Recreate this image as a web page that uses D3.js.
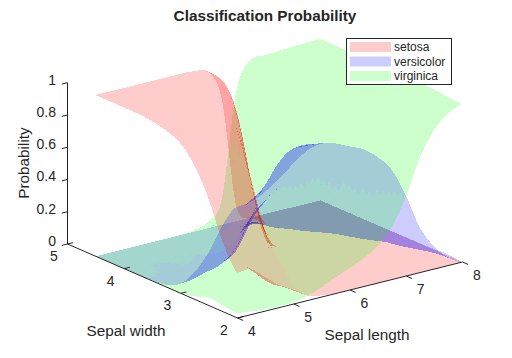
<!DOCTYPE html>
<html>
<head>
<meta charset="utf-8">
<script src="https://cdn.jsdelivr.net/npm/d3@7"></script>
<style>
  html, body { margin: 0; padding: 0; background: #fff; }
  svg { display: block; }
  text { font-family: "Liberation Sans", Arial, sans-serif; fill: #262626; }
</style>
</head>
<body>
<script>
const speciesNames = ['setosa', 'versicolor', 'virginica']
const speciesColors = ['#ff0000', '#0000ff', '#00ff00']
const legendColors = ['#ffcccc', '#ccccff', '#ccffcc']

// rows are sepal width, columns are sepal length
const lengthGrid = [4, 4.25, 4.5, 4.75, 5, 5.25, 5.5, 5.75, 6, 6.25, 6.5, 6.75, 7, 7.25, 7.5, 7.75, 8]
const widthGrid = [2, 2.25, 2.5, 2.75, 3, 3.25, 3.5, 3.75, 4, 4.25, 4.5]

const setosaProb = [
  [.28, .28, .21, .14, .09, .03, .01, 0, 0, 0, 0, 0, 0, 0, 0, 0, 0],
  [.43, .32, .23, .14, .09, .035, .01, 0, 0, 0, 0, 0, 0, 0, 0, 0, 0],
  [.66, .57, .47, .34, .22, .08, .02, .005, 0, 0, 0, 0, 0, 0, 0, 0, 0],
  [.83, .79, .72, .63, .50, .25, .075, .015, 0, 0, 0, 0, 0, 0, 0, 0, 0],
  [.93, .92, .89, .845, .78, .52, .22, .06, .01, 0, 0, 0, 0, 0, 0, 0, 0],
  [.97, .97, .96, .945, .92, .81, .55, .19, .03, .003, 0, 0, 0, 0, 0, 0, 0],
  [.99, .99, .985, .98, .977, .945, .82, .47, .13, .01, 0, 0, 0, 0, 0, 0, 0],
  [1, 1, .995, .995, .99, .985, .95, .80, .42, .04, 0, 0, 0, 0, 0, 0, 0],
  [1, 1, 1, 1, 1, .995, .99, .96, .80, .37, .01, 0, 0, 0, 0, 0, 0],
  [1, 1, 1, 1, 1, 1, 1, .99, .95, .75, .22, .005, 0, 0, 0, 0, 0],
  [1, 1, 1, 1, 1, 1, 1, .995, .97, .78, .10, .003, 0, 0, 0, 0, 0]
]

const versicolorProb = [
  [.69, .70, .74, .80, .87, .93, .95, .93, .89, .85, .78, .68, .50, .28, .14, .05, 0],
  [.54, .58, .65, .70, .80, .90, .90, .89, .86, .80, .70, .52, .33, .17, .09, .04, .01],
  [.33, .40, .50, .57, .66, .78, .84, .84, .80, .74, .60, .36, .19, .11, .06, .025, .005],
  [.17, .20, .27, .36, .44, .56, .68, .72, .72, .66, .42, .23, .14, .09, .045, .015, .003],
  [.06, .07, .10, .13, .20, .36, .44, .52, .52, .45, .25, .15, .10, .055, .025, .01, .002],
  [.015, .03, .035, .045, .07, .12, .30, .38, .42, .28, .16, .105, .07, .035, .015, .005, .001],
  [.005, .008, .01, .015, .015, .045, .12, .23, .19, .14, .105, .07, .045, .02, .008, .003, 0],
  [0, 0, .005, .003, .005, .01, .02, .08, .15, .115, .08, .045, .02, .008, .003, 0, 0],
  [0, 0, 0, 0, .002, .002, .002, .01, .05, .09, .06, .025, .008, .002, 0, 0, 0],
  [0, 0, 0, 0, 0, 0, 0, 0, .005, .02, .03, .01, .002, 0, 0, 0, 0],
  [0, 0, 0, 0, 0, 0, 0, 0, 0, 0, 0, 0, 0, 0, 0, 0, 0]
]

const virginicaProb = [
  [.03, .02, .01, .01, .01, .03, .06, .10, .135, .175, .23, .325, .49, .71, .86, .94, .98],
  [.04, .03, .02, .015, .015, .02, .03, .05, .08, .13, .26, .455, .67, .83, .92, .965, .985],
  [.05, .03, .02, .015, .015, .02, .03, .04, .08, .17, .37, .62, .825, .93, .97, .985, .995],
  [.02, .01, .01, .013, .02, .025, .03, .045, .13, .31, .575, .81, .93, .975, .99, .995, 1],
  [.005, .005, .005, .01, .01, .02, .04, .11, .29, .555, .79, .92, .97, .99, .995, 1, 1],
  [.002, .003, .004, .005, .01, .02, .06, .25, .56, .81, .93, .975, .99, .995, 1, 1, 1],
  [.001, .002, .004, .005, .005, .01, .06, .32, .72, .93, .98, .99, .995, 1, 1, 1, 1],
  [0, 0, 0, .002, .003, .005, .03, .17, .55, .90, .98, .995, 1, 1, 1, 1, 1],
  [0, 0, 0, 0, .002, .003, .01, .04, .19, .62, .94, .98, .995, 1, 1, 1, 1],
  [0, 0, 0, 0, 0, 0, 0, .01, .04, .25, .77, .96, .985, .995, 1, 1, 1],
  [0, 0, 0, 0, 0, 0, .002, .01, .04, .16, .80, .975, .985, .99, .995, 1, 1]
]

const lengthTicks = [4, 5, 6, 7, 8]
const widthTicks = [2, 3, 4, 5]
const probTicks = [0, 0.2, 0.4, 0.6, 0.8, 1]

const svg = d3.select('body').append('svg').attr('width', 512).attr('height', 358)

// oblique projection of the 3d box, one scale per screen direction
const lenX = d3.scaleLinear().domain([4, 8]).range([0, 225])
const lenY = d3.scaleLinear().domain([4, 8]).range([0, -56])
const widX = d3.scaleLinear().domain([2, 5]).range([0, -170])
const widY = d3.scaleLinear().domain([2, 5]).range([0, -74])
const probY = d3.scaleLinear().domain([0, 1]).range([0, -161.3])

const project = (l, w, p) => [
  237 + lenX(l) + widX(w),
  318 + lenY(l) + widY(w) + probY(p)
]
const depth = (l, w, p) => 0.53 * (l - 4) / 4 + 0.69 * (w - 2) / 3 - 0.33 * p

// smooth the drawn mesh between the read values
const catmull = (a, b, c, d, t) =>
  0.5 * (2 * b + (c - a) * t + (2 * a - 5 * b + 4 * c - d) * t * t + (3 * b - a - 3 * c + d) * t * t * t)

function sample(table, u, v) {
  const col = Math.min(Math.floor(u), lengthGrid.length - 2)
  const row = Math.min(Math.floor(v), widthGrid.length - 2)
  const vals = []
  for (let r = row - 1; r <= row + 2; r++) {
    const line = table[Math.max(0, Math.min(widthGrid.length - 1, r))]
    const at = i => line[Math.max(0, Math.min(lengthGrid.length - 1, i))]
    vals.push(catmull(at(col - 1), at(col), at(col + 1), at(col + 2), u - col))
  }
  return Math.max(0, Math.min(1, catmull(vals[0], vals[1], vals[2], vals[3], v - row)))
}

const steps = 5
const quads = []
;[setosaProb, versicolorProb, virginicaProb].forEach((table, s) => {
  for (let i = 0; i < (lengthGrid.length - 1) * steps; i++) {
    for (let j = 0; j < (widthGrid.length - 1) * steps; j++) {
      const corners = [[i, j], [i + 1, j], [i + 1, j + 1], [i, j + 1]].map(([a, b]) => {
        const l = 4 + a * 0.25 / steps
        const w = 2 + b * 0.25 / steps
        return { l, w, p: sample(table, a / steps, b / steps) }
      })
      const key = d3.mean(corners, c => depth(c.l, c.w, c.p)) - s * 0.0005
      quads.push({ s, key, pts: corners.map(c => project(c.l, c.w, c.p)) })
    }
  }
})
quads.sort((a, b) => b.key - a.key)

svg.append('g').selectAll('path')
  .data(quads)
  .join('path')
  .attr('d', d => 'M' + d.pts.map(p => p[0].toFixed(2) + ',' + p[1].toFixed(2)).join('L') + 'Z')
  .attr('fill', d => speciesColors[d.s])
  .attr('fill-opacity', 0.2)
  .attr('shape-rendering', 'crispEdges')

// axes
const axisColor = '#262626'
const axes = svg.append('g').attr('stroke', axisColor).attr('fill', 'none').attr('stroke-width', 1)
  .attr('transform', 'translate(0.5,0)')
const segment = (a, b) => axes.append('line').attr('x1', a[0]).attr('y1', a[1]).attr('x2', b[0]).attr('y2', b[1])

segment(project(4, 2, 0), project(8, 2, 0))
segment(project(4, 2, 0), project(4, 5, 0))
segment(project(4, 5, 0), project(4, 5, 1))

lengthTicks.forEach(t => {
  const a = project(t, 2, 0)
  segment(a, project(t, 1.9, 0))
  svg.append('text').attr('x', a[0] + 15).attr('y', a[1] + 18).attr('text-anchor', 'middle')
    .attr('font-size', 14).text(t)
})
widthTicks.forEach(t => {
  const a = project(4, t, 0)
  segment(a, project(4.1, t, 0))
  svg.append('text').attr('x', a[0] - 13).attr('y', a[1] + 17).attr('text-anchor', 'middle')
    .attr('font-size', 14).text(t)
})
probTicks.forEach(t => {
  const a = project(4, 5, t)
  segment(a, project(3.9, 5, t))
  svg.append('text').attr('x', a[0] - 11).attr('y', a[1] + 2).attr('text-anchor', 'end')
    .attr('font-size', 14).text(t)
})

svg.append('text').attr('x', 265).attr('y', 20.5).attr('text-anchor', 'middle')
  .attr('font-size', 15.3).attr('font-weight', 'bold').text('Classification Probability')
svg.append('text').attr('x', 367).attr('y', 340).attr('text-anchor', 'middle')
  .attr('font-size', 15.3).text('Sepal length')
svg.append('text').attr('x', 126).attr('y', 336).attr('text-anchor', 'middle')
  .attr('font-size', 15.3).text('Sepal width')
svg.append('text').attr('transform', 'translate(29,163) rotate(-90)').attr('text-anchor', 'middle')
  .attr('font-size', 15.3).text('Probability')

// legend
const legend = svg.append('g')
legend.append('rect').attr('x', 346.5).attr('y', 38.5).attr('width', 105).attr('height', 46)
  .attr('fill', '#fff').attr('stroke', axisColor)
const rowY = d3.scalePoint().domain(speciesNames).range([47, 76])
speciesNames.forEach((name, i) => {
  legend.append('rect').attr('x', 350).attr('y', rowY(name) - 5).attr('width', 41).attr('height', 10)
    .attr('fill', legendColors[i])
  legend.append('text').attr('x', 394).attr('y', rowY(name) + 4).attr('font-size', 12).text(name)
})
</script>
</body>
</html>
